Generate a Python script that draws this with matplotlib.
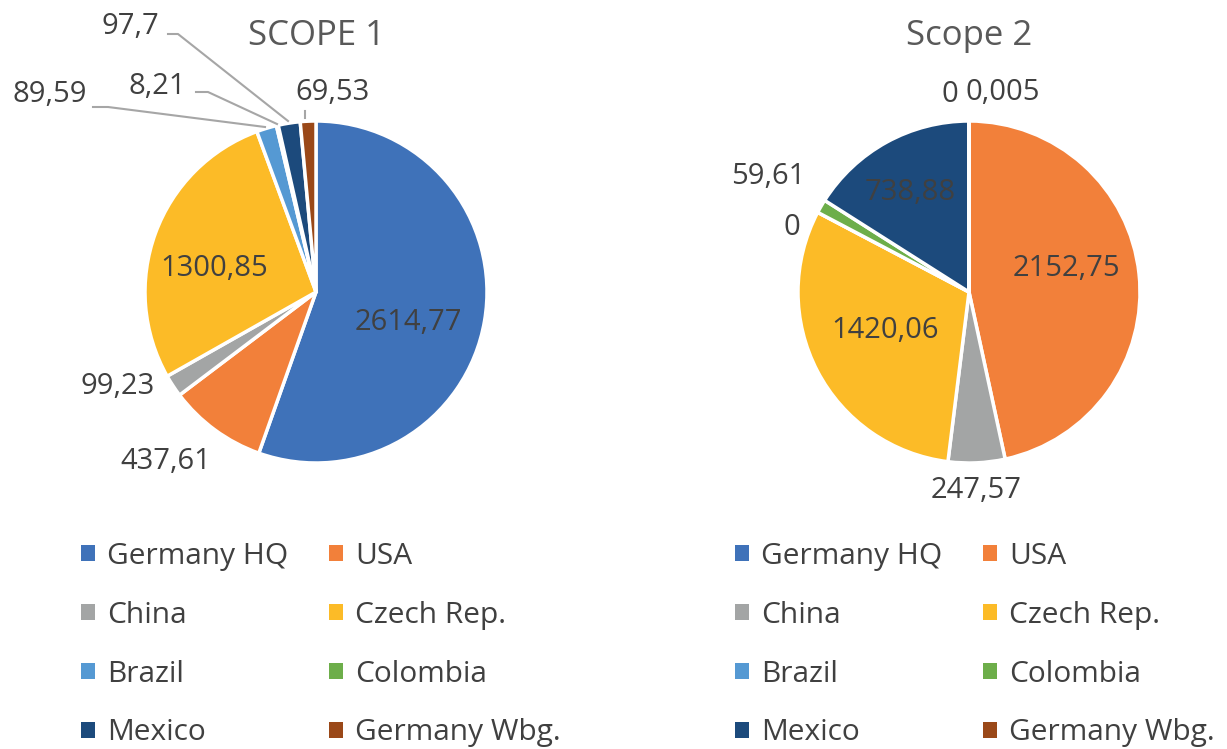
import matplotlib
matplotlib.use("Agg")
import matplotlib.pyplot as plt
from matplotlib.patches import Patch
from matplotlib.lines import Line2D

plt.rcParams['font.family'] = ['Open Sans', 'DejaVu Sans']

sites = ['Germany HQ', 'USA', 'China', 'Czech Rep.', 'Brazil', 'Colombia',
         'Mexico', 'Germany Wbg.']
colors = ['#3F72B9', '#F2803A', '#A3A5A5', '#FCBB27', '#5599D3', '#6DAE4A',
          '#1C4A7C', '#9A4818']
scope1 = [2614.77, 437.61, 99.23, 1300.85, 89.59, 8.21, 97.7, 69.53]
scope2 = [0, 2152.75, 247.57, 1420.06, 0, 59.61, 738.88, 0.005]

W, H = 1227, 749
TXT = '#404040'
FS = 21


def fmt(v):
    return str(v).replace('.', ',')


fig = plt.figure(figsize=(W / 100, H / 100), dpi=100)


def draw_pie(vals, cx, cy, r, title, label_pos, leaders):
    ax = fig.add_axes([(cx - r) / W, 1 - (cy + r) / H, 2 * r / W, 2 * r / H])
    ax.pie(vals, colors=colors, startangle=90, counterclock=False,
           wedgeprops=dict(edgecolor='white', linewidth=2.5))
    ax.set_xlim(-1, 1)
    ax.set_ylim(-1, 1)
    ax.set_aspect('equal')
    ax.axis('off')
    fig.text(cx / W, 1 - 36 / H, title, ha='center', va='center',
             fontsize=25, color='#595959')
    # data labels, positions in pixels
    for v, pos in zip(vals, label_pos):
        fig.text(pos[0] / W, 1 - pos[1] / H, fmt(v), ha='center',
                 va='center', fontsize=FS, color=TXT)
    for pts in leaders:
        fig.add_artist(Line2D([p[0] / W for p in pts],
                              [1 - p[1] / H for p in pts],
                              color='#A6A6A6', lw=1.5))
    return ax


draw_pie(scope1, 316, 292, 171, 'SCOPE 1',
         [(408, 322), (166, 461), (118, 386), (214, 268),
          (50, 95), (157, 86), (130, 26), (332, 92)],
         [[(93, 107), (108, 107), (265, 127)],
          [(196, 92), (208, 92), (277, 124)],
          [(168, 34), (178, 34), (288, 121)],
          [(305, 111), (305, 118)]])

draw_pie(scope2, 969, 292, 171, 'Scope 2',
         [(950, 95), (1066, 268), (976, 491), (885, 331),
          (792, 227), (768, 177), (910, 193), (1003, 92)],
         [])

# legend fills column-wise, so reorder to read row by row
order = [0, 2, 4, 6, 1, 3, 5, 7]
handles = [Patch(facecolor=colors[i], edgecolor='none') for i in order]
labels = [sites[i] for i in order]
for x0 in (54, 708):
    fig.legend(handles, labels, ncol=2, loc='upper left',
               bbox_to_anchor=(x0 / W, 1 - 515 / H), frameon=False,
               fontsize=21.5, labelcolor=TXT, handlelength=0.47,
               handleheight=0.47, handletextpad=0.42, columnspacing=1.34,
               labelspacing=1.0)

fig.savefig('out.png', dpi=100)
